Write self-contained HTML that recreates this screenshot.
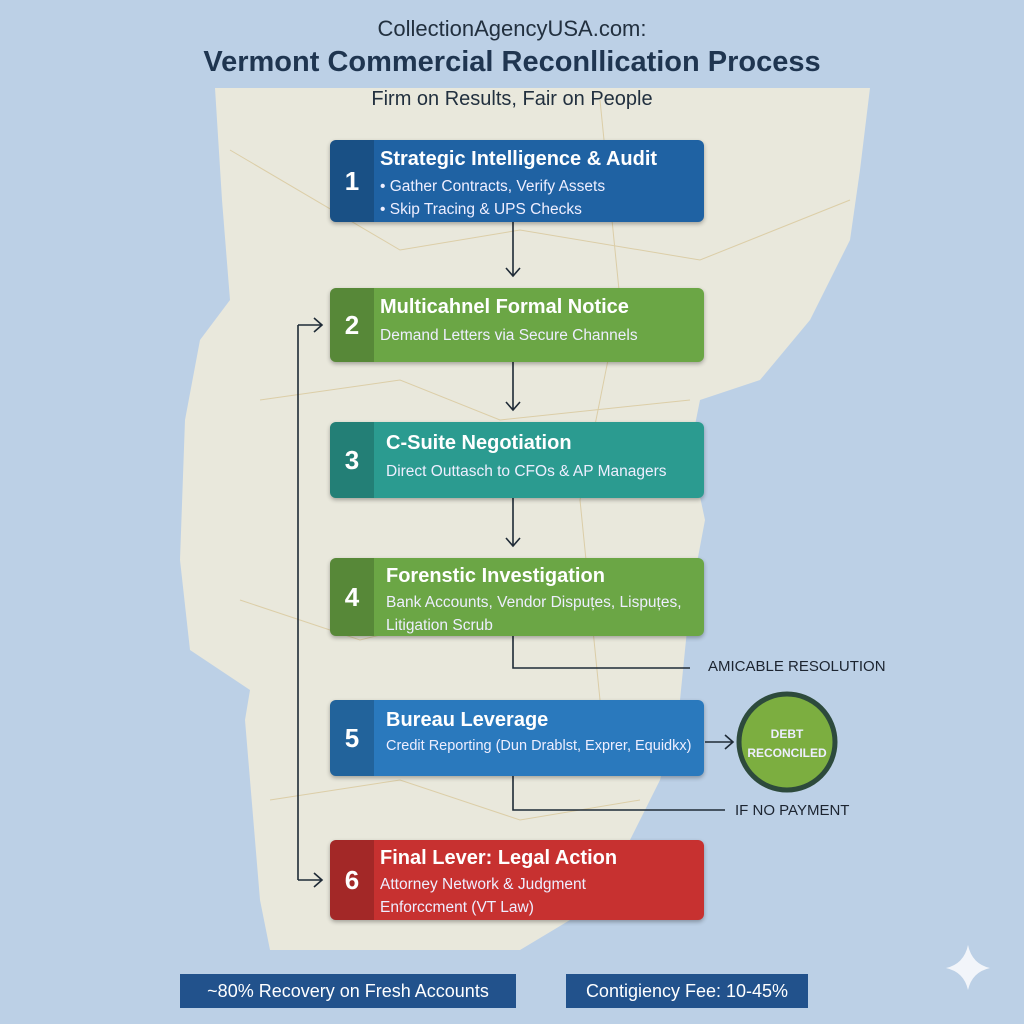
<!DOCTYPE html>
<html><head><meta charset="utf-8"><style>
body{margin:0;width:1024px;height:1024px;overflow:hidden;background:#bcd0e6;font-family:"Liberation Sans",sans-serif;position:relative}
.t{position:absolute;left:0;width:1024px;text-align:center;color:#22303f}
.box{position:absolute;left:330px;width:374px;border-radius:6px;color:#fff;box-shadow:0 2px 4px rgba(0,0,0,.3);overflow:hidden}
.box .n{position:absolute;left:0;top:0;bottom:0;width:44px;background:rgba(0,0,0,.18);font-size:26px;font-weight:bold;display:flex;align-items:center;justify-content:center}
.box .h{position:absolute;left:50px;font-size:20px;font-weight:bold}
.box .s{position:absolute;left:50px;font-size:15.5px;line-height:23px;color:#eef}
.lbl{position:absolute;font-size:15px;color:#1c2430}
.foot{position:absolute;top:974px;height:34px;background:#22528c;color:#fff;font-size:18px;line-height:34px;text-align:center}
</style></head><body>
<svg width="1024" height="1024" style="position:absolute;left:0;top:0">
<polygon points="215,88 870,88 860,170 850,240 810,320 760,380 700,400 690,450 705,520 690,600 680,700 660,780 620,860 570,920 520,950 270,950 260,900 245,720 250,690 190,650 180,560 185,420 200,340 230,300 222,200" fill="#e9e8dc"/>
<g stroke="#d8c79a" stroke-width="1" fill="none" opacity=".8">
<path d="M230,150 L400,250 L520,230 L700,260 L850,200"/><path d="M260,400 L400,380 L500,420 L690,400"/><path d="M240,600 L360,640 L520,600 L690,620"/><path d="M270,800 L400,780 L520,820 L640,800"/><path d="M600,100 L620,300 L580,500 L600,700"/>
</g>
<g stroke="#1e2a36" stroke-width="1.6" fill="none">
<path d="M513,222 V276 M506,268 L513,276 L520,268"/>
<path d="M513,362 V410 M506,402 L513,410 L520,402"/>
<path d="M513,498 V546 M506,538 L513,546 L520,538"/>
<path d="M513,636 V668 H690"/>
<path d="M513,776 V810 H725"/>
<path d="M298,325 V880 M298,325 H322 M314,318 L322,325 L314,332 M298,880 H322 M314,873 L322,880 L314,887"/>
<path d="M705,742 H733 M725,735 L733,742 L725,749"/>
</g>
<circle cx="787" cy="742" r="48" fill="#7cae40" stroke="#2d4a3c" stroke-width="5"/>
<text x="787" y="738" text-anchor="middle" font-family="Liberation Sans" font-weight="bold" font-size="12" fill="#eef">DEBT</text>
<text x="787" y="757" text-anchor="middle" font-family="Liberation Sans" font-weight="bold" font-size="12" fill="#eef">RECONCILED</text>
<path d="M968,945 Q972,964 990,968 Q972,972 968,990 Q964,972 946,968 Q964,964 968,945Z" fill="#f2f5fa"/>
</svg>
<div class="t" style="top:16px;font-size:22px">CollectionAgencyUSA.com:</div>
<div class="t" style="top:46px;font-size:29px;font-weight:bold;color:#1f3550">Vermont Commercial Reconllication Process</div>
<div class="t" style="top:88px;font-size:20px">Firm on Results, Fair on People</div>

<div class="box" style="top:140px;height:82px;background:#1f62a3"><div class="n">1</div><div class="h" style="top:8px">Strategic Intelligence &amp; Audit</div><div class="s" style="top:35px">• Gather Contracts, Verify Assets<br>• Skip Tracing &amp; UPS Checks</div></div>
<div class="box" style="top:288px;height:74px;background:#6ba645"><div class="n">2</div><div class="h" style="top:8px">Multicahnel Formal Notice</div><div class="s" style="top:36px">Demand Letters via Secure Channels</div></div>
<div class="box" style="top:422px;height:76px;background:#2b9b90"><div class="n">3</div><div class="h" style="top:10px;left:56px">C-Suite Negotiation</div><div class="s" style="top:38px;left:56px">Direct Outtasch to CFOs &amp; AP Managers</div></div>
<div class="box" style="top:558px;height:78px;background:#6ba645"><div class="n">4</div><div class="h" style="top:7px;left:56px">Forenstic Investigation</div><div class="s" style="top:33px;left:56px">Bank Accounts, Vendor Dispuțes, Lispuțes,<br>Litigation Scrub</div></div>
<div class="box" style="top:700px;height:76px;background:#2a79bd"><div class="n">5</div><div class="h" style="top:9px;left:56px">Bureau Leverage</div><div class="s" style="top:35px;left:56px;font-size:14.5px">Credit Reporting (Dun Drablst, Exprer, Equidkx)</div></div>
<div class="box" style="top:840px;height:80px;background:#c73130"><div class="n">6</div><div class="h" style="top:7px">Final Lever: Legal Action</div><div class="s" style="top:33px">Attorney Network &amp; Judgment<br>Enforccment (VT Law)</div></div>

<div class="lbl" style="left:708px;top:658px">AMICABLE RESOLUTION</div>
<div class="lbl" style="left:735px;top:802px">IF NO PAYMENT</div>
<div class="foot" style="left:180px;width:336px">~80% Recovery on Fresh Accounts</div>
<div class="foot" style="left:566px;width:242px">Contigiency Fee: 10-45%</div>
</body></html>
